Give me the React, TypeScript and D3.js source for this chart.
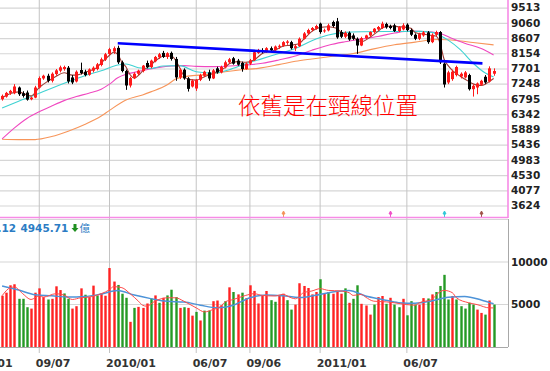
import React from 'react';
import * as d3 from 'd3';

const W = 550;
const H = 371;

// weekly candles [open, high, low, close], oldest first
const OHLC: [number, number, number, number][] = [
  [6800, 6940, 6760, 6900], [6880, 7020, 6850, 6990], [6990, 7080, 6930, 7050], [6980, 7250, 6950, 7180], [7150, 7180, 6900, 6950],
  [6980, 7040, 6850, 6900], [7000, 7060, 6760, 6790], [6800, 6880, 6770, 6850], [6850, 7200, 6830, 7150], [7150, 7480, 7120, 7430],
  [7420, 7530, 7380, 7500], [7500, 7560, 7300, 7350], [7350, 7600, 7300, 7560], [7550, 7700, 7500, 7660], [7650, 7800, 7600, 7750],
  [7700, 7800, 7650, 7760], [7740, 7790, 7270, 7330], [7450, 7520, 7250, 7300], [7330, 7660, 7300, 7620], [7670, 7890, 7540, 7580],
  [7620, 7680, 7480, 7520], [7530, 7720, 7500, 7690], [7650, 7780, 7600, 7740], [7700, 7880, 7660, 7840], [7820, 8040, 7780, 7990],
  [7980, 8180, 7940, 8140], [8150, 8330, 8100, 8290], [8220, 8370, 8150, 8320], [8330, 8395, 7850, 7900], [7900, 7950, 7600, 7640],
  [7640, 7680, 7080, 7210], [7210, 7470, 7150, 7430], [7430, 7600, 7400, 7560], [7560, 7680, 7520, 7650], [7640, 7820, 7600, 7800],
  [7880, 7950, 7720, 7760], [7760, 7980, 7720, 7950], [7930, 8090, 7900, 8060], [8050, 8180, 8000, 8140], [8180, 8240, 8030, 8060],
  [8060, 8200, 8000, 8170], [8180, 8220, 7950, 8000], [8000, 8060, 7350, 7450], [7450, 7720, 7400, 7680], [7680, 7720, 7380, 7420],
  [7420, 7460, 7030, 7110], [7180, 7400, 7150, 7350], [7120, 7400, 7050, 7380], [7380, 7560, 7340, 7520], [7500, 7650, 7460, 7620],
  [7600, 7680, 7350, 7420], [7420, 7700, 7400, 7660], [7720, 7770, 7560, 7600], [7600, 7800, 7570, 7760], [7750, 7950, 7720, 7900],
  [7900, 8030, 7860, 7990], [8020, 8060, 7830, 7860], [7950, 8000, 7800, 7830], [7880, 7920, 7620, 7700], [7700, 7900, 7680, 7860],
  [7860, 8000, 7820, 7960], [7960, 8240, 7940, 8200], [8180, 8300, 8150, 8260], [8260, 8320, 8170, 8210], [8210, 8350, 8180, 8320],
  [8320, 8370, 8220, 8260], [8260, 8400, 8220, 8370], [8370, 8430, 8300, 8390], [8390, 8530, 8360, 8500], [8480, 8560, 8420, 8520],
  [8500, 8540, 8280, 8320], [8320, 8420, 8240, 8380], [8380, 8640, 8360, 8600], [8600, 8800, 8580, 8760], [8760, 8900, 8720, 8860],
  [8860, 8950, 8820, 8920], [8900, 9020, 8870, 8980], [9050, 9080, 8750, 8800], [8820, 8900, 8780, 8850], [8850, 9050, 8820, 9000],
  [9100, 9140, 8940, 8980], [9120, 9220, 8600, 8640], [8800, 8860, 8620, 8660], [8660, 8820, 8620, 8780], [8780, 8820, 8540, 8580],
  [8700, 8760, 8560, 8600], [8600, 8640, 8150, 8400], [8400, 8660, 8380, 8620], [8620, 8720, 8580, 8700], [8700, 8820, 8660, 8800],
  [8800, 8920, 8760, 8900], [8880, 8980, 8840, 8950], [8920, 9110, 8890, 9050], [9040, 9080, 8900, 8940], [8980, 9020, 8880, 8920],
  [9000, 9050, 8800, 8830], [8830, 8980, 8800, 8950], [8880, 9060, 8850, 9000], [9020, 9060, 8820, 8860], [8860, 8900, 8680, 8720],
  [8720, 8760, 8560, 8600], [8600, 8780, 8560, 8740], [8700, 8830, 8660, 8790], [8790, 8830, 8450, 8500], [8500, 8760, 8470, 8720],
  [8720, 8840, 8680, 8800], [8800, 8830, 7850, 7900], [7860, 7900, 7150, 7240], [7300, 7650, 7250, 7600], [7400, 7680, 7350, 7620],
  [7520, 7800, 7480, 7760], [7480, 7600, 7420, 7560], [7450, 7640, 7420, 7600], [7520, 7560, 7060, 7100], [7100, 7250, 6880, 7200],
  [7150, 7300, 6950, 7270], [7230, 7380, 7200, 7350], [7470, 7520, 7260, 7300], [7330, 7780, 7300, 7720], [7560, 7720, 7500, 7640],
];

// weekly volume (億) and its colour, r = up, g = down
const VOLUME = [
  6030, 6390, 7260, 7380, 5670, 5670, 4680, 4520, 6390, 6900,
  5870, 5590, 5670, 7140, 6700, 6300, 5670, 4520, 4800, 6900,
  6150, 5870, 7220, 6070, 6300, 6030, 9290, 7700, 7300, 6270,
  5790, 2960, 4600, 4720, 4600, 5120, 5710, 6070, 5200, 5790,
  6070, 6740, 5870, 4600, 4680, 4600, 3690, 4130, 3120, 4280,
  4280, 5390, 5470, 4920, 5390, 7020, 6470, 6190, 6390, 5750,
  7260, 6600, 5120, 6000, 6590, 5510, 5320, 6000, 6270, 5510,
  4400, 4990, 7500, 7180, 6940, 6190, 6470, 7970, 6270, 6470,
  6270, 6470, 6270, 6900, 5200, 5670, 7260, 5080, 4880, 3810,
  4990, 5870, 6000, 5080, 5790, 4990, 4680, 5670, 3730, 5390,
  4990, 4990, 5750, 5710, 6190, 6470, 7180, 8490, 5590, 6000,
  5590, 4800, 4520, 5200, 4990, 4400, 4010, 3810, 5470, 4990,
];
const VOL_DIR = (
  'rrrrgggrrr' + 'rgrrrggrrr' + 'grrgrrrrgg' + 'grgrrrgrgr' + 'gggrgrrgrg' + 'grrrgrgrgr' +
  'rrrrrggrrg' + 'grrrrrrgrg' + 'rrrgrggrrr' + 'grrgrggrgg' + 'grrgrggggr' + 'gggggrrgrg'
).split('');

// moving averages: [week index, value]
const MA_BROWN: [number, number][] = [
  [0, 6840], [2, 6970], [4, 7020], [6, 6930], [7, 6900], [9, 7150], [11, 7330], [13, 7480], [15, 7590], [17, 7520],
  [18, 7520], [20, 7590], [21, 7640], [23, 7750], [24, 7880], [26, 8110], [27, 8200], [28, 8140], [29, 7900], [30, 7760],
  [31, 7530], [32, 7430], [33, 7510], [34, 7640], [36, 7820], [37, 7930], [38, 8020], [39, 8080], [41, 8086], [42, 7960],
  [43, 7740], [44, 7500], [45, 7400], [47, 7370], [49, 7470], [50, 7520], [52, 7620], [54, 7740], [55, 7860], [57, 7920],
  [59, 7900], [61, 7970], [63, 8160], [66, 8260], [68, 8380], [70, 8410], [72, 8460], [73, 8580], [75, 8820], [77, 8940],
  [79, 8960], [81, 8910], [82, 8800], [84, 8690], [86, 8570], [87, 8510], [89, 8640], [91, 8820], [92, 8920], [94, 8980],
  [96, 8960], [98, 8940], [99, 8910], [100, 8790], [102, 8740], [104, 8700], [105, 8680], [106, 8480], [107, 8000], [108, 7800],
  [109, 7660], [111, 7480], [113, 7330], [114, 7260], [115, 7220], [116, 7210], [117, 7250], [118, 7330], [119, 7420],
];
const MA_CYAN: [number, number][] = [
  [0, 6540], [4, 6740], [8, 6930], [12, 7130], [16, 7320], [20, 7500], [24, 7650], [28, 7820], [30, 7850], [33, 7740],
  [36, 7720], [39, 7790], [43, 7800], [47, 7620], [51, 7580], [55, 7680], [59, 7860], [63, 8010], [67, 8160], [71, 8310],
  [75, 8540], [79, 8710], [83, 8790], [87, 8810], [93, 8815], [101, 8820], [104, 8790], [106, 8700], [108, 8560], [111, 8270],
  [114, 7880], [117, 7580], [119, 7460],
];
const MA_PINK: [number, number][] = [
  [0, 5620], [3, 5950], [6, 6230], [9, 6430], [12, 6600], [15, 6760], [18, 6880], [21, 6980], [24, 7100], [26, 7250],
  [28, 7440], [30, 7540], [32, 7600], [35, 7680], [38, 7750], [41, 7790], [44, 7800], [47, 7780], [51, 7770], [55, 7790],
  [59, 7820], [63, 7870], [67, 7970], [71, 8090], [75, 8260], [79, 8410], [83, 8510], [87, 8590], [91, 8670], [95, 8770],
  [99, 8830], [103, 8810], [106, 8760], [109, 8610], [112, 8470], [116, 8310], [119, 8120],
];
const MA_ORANGE: [number, number][] = [
  [0, 5610], [4, 5600], [8, 5600], [12, 5690], [16, 5850], [20, 6050], [24, 6300], [26, 6470], [30, 6780], [34, 6930],
  [36, 7020], [40, 7230], [42, 7400], [45, 7490], [50, 7540], [54, 7620], [58, 7680], [62, 7720], [67, 7830], [71, 7930],
  [75, 8000], [80, 8080], [85, 8160], [90, 8300], [95, 8420], [100, 8500], [104, 8570], [106, 8580], [110, 8550], [114, 8490],
  [119, 8420],
];
const VOL_MA_BLUE: [number, number][] = [
  [0, 7180], [4, 6700], [8, 6150], [12, 6020], [16, 5870], [20, 5930], [24, 6230], [28, 6640], [32, 6110], [36, 5690],
  [40, 5370], [44, 5290], [48, 4920], [52, 4620], [56, 4920], [60, 5800], [64, 6110], [68, 6020], [72, 5830], [76, 6100],
  [80, 6470], [84, 6650], [88, 6000], [92, 5600], [96, 5220], [100, 5140], [104, 5420], [108, 5850], [112, 5950], [116, 5540],
  [119, 5080],
];
const VOL_MA_RED: [number, number][] = [
  [0, 6030], [2, 6980], [3, 7060], [5, 6270], [7, 5590], [9, 6000], [10, 5870], [13, 6270], [15, 6110], [17, 5590],
  [19, 5790], [21, 5870], [24, 6270], [26, 6740], [27, 7100], [29, 6980], [31, 6270], [33, 5390], [34, 4920], [35, 4800],
  [37, 5390], [40, 5790], [42, 5790], [44, 5390], [47, 4600], [49, 4130], [51, 4400], [53, 4800], [54, 5310], [56, 5590],
  [59, 6070], [61, 6270], [63, 6070], [66, 6000], [68, 6190], [70, 5790], [71, 5670], [73, 6390], [75, 6590], [77, 6860],
  [79, 6660], [82, 6590], [84, 6390], [85, 6070], [87, 6190], [88, 5870], [90, 5390], [93, 5310], [95, 5200], [98, 4990],
  [100, 4920], [101, 5200], [104, 5590], [106, 6500], [107, 6660], [109, 6390], [110, 5790], [113, 5200], [115, 4990], [118, 4600],
  [119, 4600],
];

// neckline end points [week index, value]
const NECKLINE: [number, number][] = [[28, 8465], [116.3, 7868]];

// MA deduction markers (week index, colour)
const MARKERS: [number, string][] = [[68, '#f4925a'], [94, '#f050c8'], [107, '#30c8d8'], [116, '#a0524a']];

const PRICE_TICKS = [9513, 9060, 8607, 8154, 7701, 7248, 6795, 6342, 5889, 5436, 4983, 4530, 4077, 3624];
const VOL_TICKS = [10000, 5000];
const DATE_TICKS: [number, string][] = [
  [-5, '06/01'], [9, '09/07'], [26, '2010/01'], [47, '06/07'], [60, '09/06'], [77, '2011/01'], [98, '06/07'],
];

const PLOT_R = 508;
const MAIN_BOTTOM = 217;
const VOL_BOTTOM = 347;
const NUM_FONT = '"DejaVu Sans", Verdana, sans-serif';

export default function App() {
  const x = d3.scaleLinear().domain([0, 119]).range([2.1, 493.6]);
  const y = d3.scaleLinear().domain([3624, 9513]).range([206, 8.1]);
  const yv = d3.scaleLinear().domain([0, 15000]).range([VOL_BOTTOM, 219.5]);
  const bodyW = 3;

  const priceLine = d3
    .line<[number, number]>()
    .x((d) => x(d[0]))
    .y((d) => y(d[1]))
    .curve(d3.curveMonotoneX);
  const volLine = d3
    .line<[number, number]>()
    .x((d) => x(d[0]))
    .y((d) => yv(d[1]))
    .curve(d3.curveMonotoneX);
  const straight = d3
    .line<[number, number]>()
    .x((d) => x(d[0]))
    .y((d) => y(d[1]));

  return (
    <svg
      width={W}
      height={H}
      style={{ position: 'absolute', left: 0, top: 0, background: '#fff' }}
    >
      <defs>
        <clipPath id="mainClip">
          <rect x={0} y={0} width={PLOT_R} height={MAIN_BOTTOM} />
        </clipPath>
        <clipPath id="volClip">
          <rect x={0} y={219} width={PLOT_R} height={VOL_BOTTOM - 219} />
        </clipPath>
      </defs>

      {/* horizontal grid, price panel */}
      {PRICE_TICKS.map((t) => (
        <line key={'pg' + t} x1={0} x2={PLOT_R} y1={y(t)} y2={y(t)} stroke="#d6d6d6" strokeWidth={1.2} />
      ))}
      {/* horizontal grid, volume panel */}
      {VOL_TICKS.map((t) => (
        <line key={'vg' + t} x1={0} x2={PLOT_R} y1={yv(t)} y2={yv(t)} stroke="#d6d6d6" strokeWidth={1.2} />
      ))}
      <line x1={0} x2={PLOT_R} y1={yv(15000)} y2={yv(15000)} stroke="#d6d6d6" strokeWidth={1.2} />

      {/* vertical grid + ticks */}
      {DATE_TICKS.map(([i, label]) => (
        <g key={'d' + i}>
          <line x1={x(i)} x2={x(i)} y1={0} y2={VOL_BOTTOM + 6} stroke="#c4c4c4" strokeWidth={1} />
          <text
            x={x(i) - 3.5}
            y={367}
            fontFamily={NUM_FONT}
            fontWeight="bold"
            fontSize={11}
            fill="#333"
          >
            {label}
          </text>
        </g>
      ))}

      {/* moving averages */}
      <g clipPath="url(#mainClip)" fill="none" strokeWidth={1.1}>
        <path d={priceLine(MA_ORANGE) || ''} stroke="#f7955a" />
        <path d={priceLine(MA_PINK) || ''} stroke="#f048c0" />
        <path d={priceLine(MA_CYAN) || ''} stroke="#3fd2d2" />
        <path d={priceLine(MA_BROWN) || ''} stroke="#9c3c34" />
      </g>

      {/* candles */}
      <g>
        {OHLC.map(([o, h, l, c], i) => {
          const up = c >= o;
          const col = up ? '#ff1a1a' : '#000';
          const cx = Math.round(x(i)) + 0.5;
          const top = y(Math.max(o, c));
          const bh = Math.max(1, y(Math.min(o, c)) - top);
          return (
            <g key={'c' + i}>
              <line x1={cx} x2={cx} y1={y(h)} y2={y(l)} stroke={col} strokeWidth={1} />
              <rect x={cx - bodyW / 2} y={top} width={bodyW} height={bh} fill={col} />
            </g>
          );
        })}
      </g>

      {/* neckline */}
      <path d={straight(NECKLINE) || ''} stroke="#0000ff" strokeWidth={2.6} fill="none" />

      <text
        x={238}
        y={114}
        fontFamily='"Noto Sans CJK TC", "Noto Sans CJK SC", sans-serif'
        fontWeight={300}
        fontSize={22.5}
        fill="#ff0000"
      >
        依舊是在頸線位置
      </text>

      {/* deduction markers */}
      {MARKERS.map(([i, col]) => {
        const cx = Math.round(x(i)) + 0.5;
        return (
          <path
            key={'m' + i}
            d={`M${cx},${MAIN_BOTTOM - 6} L${cx - 1.5},${MAIN_BOTTOM - 3} L${cx + 1.5},${MAIN_BOTTOM - 3} Z M${cx},${MAIN_BOTTOM - 3} L${cx},${MAIN_BOTTOM}`}
            stroke={col}
            fill={col}
            strokeWidth={1}
          />
        );
      })}

      {/* price panel frame */}
      <line x1={0} x2={PLOT_R} y1={MAIN_BOTTOM + 0.5} y2={MAIN_BOTTOM + 0.5} stroke="#f78be6" strokeWidth={1.6} />
      <line x1={PLOT_R} x2={PLOT_R} y1={0} y2={MAIN_BOTTOM + 1} stroke="#f78be6" strokeWidth={1.6} />

      {/* price labels */}
      {PRICE_TICKS.map((t) => (
        <text
          key={'pl' + t}
          x={511}
          y={y(t) + 3.2}
          fontFamily={NUM_FONT}
          fontWeight="bold"
          fontSize={10.5}
          fill="#222"
        >
          {t}
        </text>
      ))}

      {/* volume bars */}
      <g clipPath="url(#volClip)">
        {VOLUME.map((v, i) => (
          <rect
            key={'v' + i}
            x={Math.round(x(i)) - 0.7}
            y={yv(v)}
            width={2.4}
            height={VOL_BOTTOM - yv(v)}
            fill={VOL_DIR[i] === 'r' ? '#ff2222' : '#259a25'}
          />
        ))}
      </g>
      <g clipPath="url(#volClip)" fill="none">
        <path d={volLine(VOL_MA_BLUE) || ''} stroke="#4d93d8" strokeWidth={1.5} />
        <path d={volLine(VOL_MA_RED) || ''} stroke="#ff4a4a" strokeWidth={1} />
      </g>

      {/* volume frame */}
      <line x1={0} x2={PLOT_R} y1={VOL_BOTTOM + 0.5} y2={VOL_BOTTOM + 0.5} stroke="#a8a8a8" strokeWidth={1} />
      <line x1={PLOT_R + 0.5} x2={PLOT_R + 0.5} y1={219} y2={VOL_BOTTOM} stroke="#a8a8a8" strokeWidth={1} />

      {VOL_TICKS.map((t) => (
        <text
          key={'vl' + t}
          x={511}
          y={yv(t) + 3.8}
          fontFamily={NUM_FONT}
          fontWeight="bold"
          fontSize={10.5}
          fill="#222"
        >
          {t}
        </text>
      ))}

      {/* volume header */}
      <text x={16} y={231.5} textAnchor="end" fontFamily={NUM_FONT} fontWeight="bold" fontSize={10.5} fill="#2b7cc4">
        5012.12
      </text>
      <text x={20.5} y={231.5} fontFamily={NUM_FONT} fontWeight="bold" fontSize={10.5} fill="#2b7cc4">
        4945.71
      </text>
      <path d="M73.5,224 L76.5,224 L76.5,228 L78.5,228 L75,232 L71.5,228 L73.5,228 Z" fill="#1f8f1f" />
      <text
        x={79.5}
        y={231.5}
        fontFamily='"Noto Sans CJK TC", sans-serif'
        fontSize={10.5}
        fill="#2b7cc4"
      >
        億
      </text>
    </svg>
  );
}
